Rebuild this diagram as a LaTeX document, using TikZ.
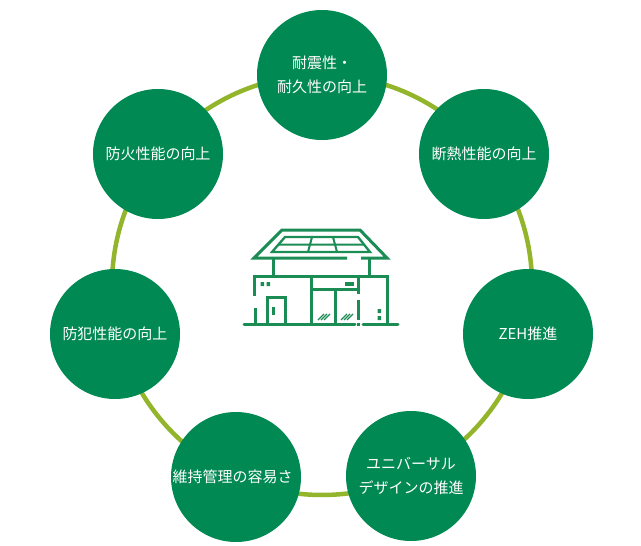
\documentclass[tikz,border=0pt]{standalone}
\usepackage{fontspec}
\setmainfont{Noto Sans CJK JP}
\definecolor{cgreen}{RGB}{0,137,82}
\definecolor{rgreen}{RGB}{147,181,43}
\definecolor{hgreen}{RGB}{26,140,84}
\newcommand{\liftline}[1]{\raisebox{1.3pt}{#1}}
\tikzset{
  topic/.style={circle,fill=cgreen,minimum size=130pt,inner sep=0pt,text=white,font=\fontsize{15pt}{23.5pt}\selectfont,align=center},
  ringline/.style={circle,draw=rgreen,line width=4.5pt,minimum size=420pt,inner sep=0pt},
  house/.style={draw=hgreen,line width=3pt},
  housefill/.style={fill=hgreen,draw=none}
}
\begin{document}
\begin{tikzpicture}[x=1pt,y=-1pt]
\useasboundingbox (0,0) rectangle (641,546);
\node[ringline] (ring) at (322,285) {};
\node[topic] (a) at (322,75) {\liftline{耐震性・}\\\liftline{耐久性の向上}};
\node[topic] (b) at (484,154) {\liftline{断熱性能の向上}};
\node[topic] (c) at (528,334) {\liftline{ZEH推進}};
\node[topic] (d) at (411,476) {\liftline{ユニバーサル}\\\liftline{デザインの推進}};
\node[topic] (e) at (236,477) {\liftline{維持管理の容易さ}\hspace{7pt}};
\node[topic] (f) at (115,334) {\liftline{防犯性能の向上}};
\node[topic] (g) at (158,154) {\liftline{防火性能の向上}};
% house
\draw[house,line join=miter] (347,258) -- (254,258) -- (282,230) -- (360,230) -- (387,258) -- (361,258);
\draw[house,line width=2.3pt] (272,252) -- (285,237) -- (358,237) -- (370,252) -- cycle;
\draw[house,line width=2pt] (278,244.5) -- (364,244.5) (312,237) -- (308,252) (333,237) -- (337,252);
\draw[house] (273,258) -- (273,275) (369,258) -- (369,275);
\draw[house] (254,296) -- (254,276) -- (387,276) -- (387,324);
\draw[house] (255,308) -- (255,324);
\draw[house,line cap=round] (244,324) -- (355,324);
\draw[house,line cap=round] (363,324) -- (398,324);
\draw[house] (357,324) -- (360,324);
\draw[house] (267,324) -- (267,297) -- (285,297) -- (285,324);
\draw[house,line width=3.2pt] (273.5,307) -- (273.5,315);
\draw[house] (311,276) -- (311,324) (358,276) -- (358,294) (358,300) -- (358,320);
\draw[house] (311,289) -- (358,289) (335,289) -- (335,324);
\fill[housefill] (345,282) rectangle (354,285.5);
\fill[housefill] (260.5,282) rectangle (264,286) (266.5,282) rectangle (270,286);
\fill[housefill] (377.5,309) rectangle (381,313) (377.5,316) rectangle (381,320);
\draw[house,line width=1.3pt] (318,320) -- (324,314) (321,320) -- (327,314) (324,320) -- (330,314);
\draw[house,line width=1.3pt] (341,320) -- (347,314) (344,320) -- (350,314) (347,320) -- (353,314);
\end{tikzpicture}
\end{document}
